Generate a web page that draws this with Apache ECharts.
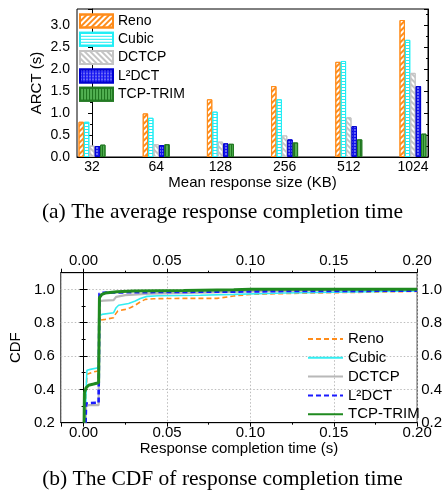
<!DOCTYPE html>
<html><head><meta charset="utf-8">
<script src="https://cdn.jsdelivr.net/npm/echarts@6/dist/echarts.min.js"></script>
<style>html,body{margin:0;padding:0;background:#fff}#c{width:445px;height:492px}</style>
</head><body><div id="c"></div>
<script>
// ---- (a) ARCT bar chart data ----
const sizes = ['32', '64', '128', '256', '512', '1024'];
const arctReno = [0.80, 0.99, 1.31, 1.61, 2.16, 3.11];
const arctCubic = [0.80, 0.89, 1.03, 1.31, 2.18, 2.66];
const arctDctcp = [0.26, 0.29, 0.35, 0.49, 0.90, 1.91];
const arctL2dct = [0.25, 0.27, 0.31, 0.40, 0.70, 1.61];
const arctTrim = [0.28, 0.29, 0.30, 0.33, 0.40, 0.53];

// ---- (b) CDF data: [time (s), CDF] ----
const cdfReno = [[0.001,0.2],[0.0015,0.36],[0.002,0.49],[0.003,0.50],[0.006,0.505],[0.0088,0.51],[0.0092,0.52],[0.0095,0.80],[0.010,0.815],[0.013,0.82],[0.018,0.83],[0.019,0.85],[0.0205,0.87],[0.025,0.88],[0.028,0.89],[0.031,0.905],[0.034,0.925],[0.037,0.94],[0.042,0.944],[0.06,0.946],[0.08,0.946],[0.09,0.96],[0.1,0.97],[0.13,0.977],[0.17,0.983],[0.2,0.988]];
const cdfCubic = [[0.001,0.2],[0.0015,0.4],[0.002,0.515],[0.004,0.52],[0.0088,0.53],[0.0095,0.84],[0.011,0.85],[0.018,0.86],[0.0195,0.89],[0.021,0.905],[0.027,0.915],[0.031,0.93],[0.034,0.945],[0.038,0.958],[0.045,0.962],[0.07,0.965],[0.09,0.97],[0.12,0.978],[0.16,0.985],[0.2,0.99]];
const cdfDctcp = [[0.001,0.2],[0.0015,0.3],[0.003,0.305],[0.009,0.305],[0.0095,0.93],[0.012,0.932],[0.018,0.935],[0.0195,0.955],[0.025,0.965],[0.04,0.975],[0.07,0.98],[0.1,0.988],[0.15,0.995],[0.2,0.998]];
const cdfL2dct = [[0.0012,0.2],[0.0015,0.315],[0.004,0.318],[0.009,0.32],[0.0095,0.975],[0.011,0.98],[0.03,0.983],[0.06,0.985],[0.1,0.987],[0.12,0.99],[0.2,0.992]];
const cdfTrim = [[0.0003,0.2],[0.0005,0.38],[0.0015,0.41],[0.003,0.425],[0.006,0.432],[0.009,0.44],[0.0095,0.95],[0.011,0.97],[0.013,0.978],[0.02,0.985],[0.03,0.99],[0.06,0.993],[0.09,0.998],[0.1,1.0],[0.2,1.0]];

const names = ['Reno', 'Cubic', 'DCTCP', 'L\u00b2DCT', 'TCP-TRIM'];
const FONT = 'Liberation Sans';

const chart = echarts.init(document.getElementById('c'), null, {renderer: 'canvas'});

const barStyles = [
  {color:'#fff', borderColor:'#ff8c1a', borderWidth:1, decal:{symbol:'rect', symbolSize:1, color:'#ff8c1a', dashArrayX:[1,0], dashArrayY:[1.2,2], rotation:-Math.PI/4}},
  {color:'#fff', borderColor:'#22eef5', borderWidth:1, decal:{symbol:'rect', symbolSize:1, color:'#22eef5', dashArrayX:[1,0], dashArrayY:[1,2], rotation:0}},
  {color:'#fff', borderColor:'#c4c4c4', borderWidth:1, decal:{symbol:'rect', symbolSize:1, color:'#c4c4c4', dashArrayX:[1,0], dashArrayY:[1.2,2], rotation:Math.PI/4}},
  {color:'#1414f0', borderColor:'#0000d0', borderWidth:1, decal:{symbol:'circle', symbolSize:0.7, color:'#ffffff', dashArrayX:[2,1], dashArrayY:[2,1]}},
  {color:'#52b052', borderColor:'#237a23', borderWidth:1, decal:{symbol:'rect', symbolSize:1, color:'#1f761f', dashArrayX:[1,1.2], dashArrayY:[4,0]}}
];
const arctSets = [arctReno, arctCubic, arctDctcp, arctL2dct, arctTrim];
const cdfSets = [cdfReno, cdfCubic, cdfDctcp, cdfL2dct, cdfTrim];
const lineStyles = [
  {color:'#ff8c1a', width:1.6, type:[5,3]},
  {color:'#33eef2', width:1.6, type:'solid'},
  {color:'#b8b8b8', width:2.2, type:'solid'},
  {color:'#1a1aff', width:2.6, type:[5,3]},
  {color:'#1f8a1f', width:3, type:'solid'}
];

const series = [];
arctSets.forEach((arr, k) => {
  series.push({
    name: names[k], type: 'bar', xAxisIndex: 0, yAxisIndex: 0,
    barWidth: 5.4, barGap: '0%',
    itemStyle: barStyles[k],
    data: arr.map((v, i) => [i, v])
  });
});
cdfSets.forEach((arr, k) => {
  series.push({
    name: names[k] + ' CDF', type: 'line', xAxisIndex: 1, yAxisIndex: 2,
    symbol: 'none', lineStyle: lineStyles[k], itemStyle: {color: lineStyles[k].color},
    data: arr
  });
});

const axisLineK = {show: true, lineStyle: {color: '#000', width: 1}};
const gridLine = {show: true, lineStyle: {color: '#bdbdbd', type: [1.5, 2], width: 1}};

chart.setOption({
  animation: false,
  textStyle: {fontFamily: FONT},
  grid: [
    {left: 77, top: 9, width: 351, height: 148, show: true, borderColor: '#000', borderWidth: 1, containLabel: false},
    {left: 58, top: 272.7, width: 360, height: 150, show: true, borderColor: '#222', borderWidth: 1, containLabel: false}
  ],
  legend: [
    {data: names, left: 79, top: 13.5, padding: 0, orient: 'vertical', icon: 'rect', itemWidth: 33, itemHeight: 13, itemGap: 3.3,
     textStyle: {fontSize: 14, color: '#000', fontFamily: FONT}, selectedMode: false},
    {data: names.map(n => n + ' CDF'), left: 307, top: 331.5, padding: 0, orient: 'vertical', itemWidth: 35, itemHeight: 14, itemGap: 3.8,
     itemStyle: {opacity: 0, color: 'transparent', borderWidth: 0},
     formatter: n => n.replace(' CDF', ''), textStyle: {fontSize: 15, color: '#000', fontFamily: FONT}, selectedMode: false}
  ],
  xAxis: [
    {gridIndex: 0, type: 'value', min: -0.234, max: 5.234, axisLine: axisLineK,
     axisTick: {show: false}, splitLine: {show: false},
     axisLabel: {customValues: [0,1,2,3,4,5], formatter: v => sizes[Math.round(v)], fontSize: 14, color: '#000', margin: 3},
     name: 'Mean response size (KB)', nameLocation: 'middle', nameGap: 16,
     nameTextStyle: {fontSize: 15, color: '#000'}},
    {gridIndex: 1, type: 'value', min: -0.0137, max: 0.2, position: 'bottom', axisLine: axisLineK,
     axisTick: {show: true, length: 4, lineStyle: {color: '#000'}},
     minorTick: {show: true, splitNumber: 2, length: 2, lineStyle: {color: '#000'}},
     splitLine: gridLine,
     axisLabel: {formatter: v => v.toFixed(2), showMinLabel: false, fontSize: 15, color: '#000', margin: 3},
     name: 'Response completion time (s)', nameLocation: 'middle', nameGap: 18,
     nameTextStyle: {fontSize: 15, color: '#000'}},
    {gridIndex: 1, type: 'value', min: -0.0137, max: 0.2, position: 'top', axisLine: axisLineK,
     axisTick: {show: true, length: 4, lineStyle: {color: '#000'}},
     minorTick: {show: true, splitNumber: 2, length: 2, lineStyle: {color: '#000'}},
     splitLine: {show: false},
     axisLabel: {formatter: v => v.toFixed(2), showMinLabel: false, fontSize: 15, color: '#000', margin: 4}}
  ],
  yAxis: [
    {gridIndex: 0, type: 'value', min: 0, max: 3.36, interval: 0.5, position: 'left', axisLine: axisLineK,
     axisTick: {show: true, length: 4, lineStyle: {color: '#000'}},
     minorTick: {show: true, splitNumber: 2, length: 2, lineStyle: {color: '#000'}},
     splitLine: {show: false},
     axisLabel: {formatter: v => v.toFixed(1), showMaxLabel: false, fontSize: 14, color: '#000', margin: 7},
     name: 'ARCT (s)', nameLocation: 'middle', nameGap: 33, nameMoveOverlap: false, nameTextStyle: {fontSize: 15, color: '#000'}},
    {gridIndex: 0, type: 'value', min: 0, max: 3.36, interval: 0.5, position: 'right', axisLine: axisLineK,
     axisTick: {show: true, inside: true, length: 4, lineStyle: {color: '#000'}},
     minorTick: {show: true, splitNumber: 2, length: 2, lineStyle: {color: '#000'}},
     splitLine: {show: false}, axisLabel: {show: false}},
    {gridIndex: 1, type: 'value', min: 0.2, max: 1.1, interval: 0.2, position: 'left', axisLine: axisLineK,
     axisTick: {show: true, length: 4, lineStyle: {color: '#000'}},
     minorTick: {show: true, splitNumber: 2, length: 2, lineStyle: {color: '#000'}},
     splitLine: gridLine,
     axisLabel: {formatter: v => v.toFixed(1), showMaxLabel: false, fontSize: 15, color: '#000', margin: 6},
     name: 'CDF', nameLocation: 'middle', nameGap: 37, nameTextStyle: {fontSize: 15, color: '#000'}},
    {gridIndex: 1, type: 'value', min: 0.2, max: 1.1, interval: 0.2, position: 'right', axisLine: axisLineK,
     axisTick: {show: true, length: 4, lineStyle: {color: '#000'}},
     minorTick: {show: true, splitNumber: 2, length: 2, lineStyle: {color: '#000'}},
     splitLine: {show: false},
     axisLabel: {formatter: v => v.toFixed(1), showMaxLabel: false, fontSize: 15, color: '#000', margin: 4}}
  ],
  graphic: [
    {type: 'text', left: 'center', top: 201, style: {text: '(a) The average response completion time', font: '21.5px "Liberation Serif"', fill: '#000'}},
    {type: 'text', left: 'center', top: 468, style: {text: '(b) The CDF of response completion time', font: '21.5px "Liberation Serif"', fill: '#000'}}
  ],
  series: series
});
</script></body></html>
